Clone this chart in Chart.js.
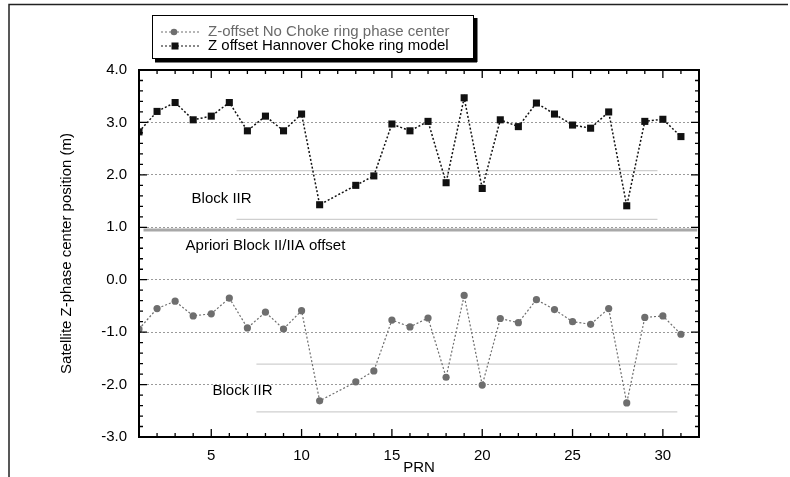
<!DOCTYPE html>
<html>
<head>
<meta charset="utf-8">
<script src="https://cdn.jsdelivr.net/npm/chart.js@4.4.0/dist/chart.umd.min.js"></script>
<style>
  html, body { margin: 0; padding: 0; background: #fff; }
</style>
</head>
<body>
<canvas id="chart" width="790" height="477"></canvas>
<script>
// PRN numbers (no PRN 12 in the data)
const prn = [1, 2, 3, 4, 5, 6, 7, 8, 9, 10, 11, 13, 14, 15, 16, 17, 18, 19, 20, 21, 22, 23, 24, 25, 26, 27, 28, 29, 30, 31];
const noChoke = [-0.94, -0.55, -0.41, -0.69, -0.65, -0.35, -0.92, -0.62, -0.94, -0.59, -2.31,
  -1.95, -1.74, -0.77, -0.90, -0.73, -1.86, -0.30, -2.01, -0.74, -0.82, -0.38, -0.57, -0.80, -0.85, -0.55, -2.35, -0.72, -0.69, -1.04];
const hannover = [2.82, 3.21, 3.38, 3.05, 3.12, 3.38, 2.84, 3.12, 2.84, 3.16, 1.43,
  1.80, 1.98, 2.97, 2.84, 3.02, 1.85, 3.47, 1.74, 3.05, 2.92, 3.37, 3.16, 2.95, 2.89, 3.20, 1.41, 3.02, 3.06, 2.73];

// Block IIR band limits and the a-priori offset line
const upperBand = [2.08, 1.15];
const upperBandX = [6.4, 29.7];
const lowerBand = [-1.61, -2.52];
const lowerBandX = [7.5, 30.8];
const aprioriOffset = 0.95;
const aprioriX = [1.25, 31.9];

const xTicks = [5, 10, 15, 20, 25, 30];
const yTicks = [-3, -2, -1, 0, 1, 2, 3, 4];

const FONT = '"Liberation Sans", Arial, sans-serif';

const toXY = (xs, ys) => xs.map((x, i) => ({ x: x, y: ys[i] }));
const hline = (xs, y) => xs.map((x) => ({ x: x, y: y }));

const refLine = (pts, color, width) => ({
  data: pts,
  borderColor: color,
  borderWidth: width,
  pointRadius: 0,
  fill: false
});

const frame = {
  id: 'frame',
  afterDraw(chart) {
    const ctx = chart.ctx;
    const { left, right, top, bottom } = chart.chartArea;
    const xs = chart.scales.x, ys = chart.scales.y;
    ctx.save();

    // outer figure frame
    ctx.strokeStyle = '#222';
    ctx.lineWidth = 1.5;
    ctx.beginPath();
    ctx.moveTo(9, 477);
    ctx.lineTo(9, 4.5);
    ctx.lineTo(788, 4.5);
    ctx.stroke();

    // inward ticks
    ctx.strokeStyle = '#000';
    ctx.lineWidth = 1.3;
    ctx.beginPath();
    for (let v = 1; v <= 32; v++) {
      const px = xs.getPixelForValue(v);
      const len = v % 5 === 0 ? 8 : 4;
      ctx.moveTo(px, bottom); ctx.lineTo(px, bottom - len);
      ctx.moveTo(px, top); ctx.lineTo(px, top + len);
    }
    for (let k = -15; k <= 20; k++) {
      const py = ys.getPixelForValue(k * 0.2);
      const len = k % 5 === 0 ? 8 : 4;
      ctx.moveTo(left, py); ctx.lineTo(left + len, py);
      ctx.moveTo(right, py); ctx.lineTo(right - len, py);
    }
    ctx.stroke();

    // plot box
    ctx.lineWidth = 2;
    ctx.strokeRect(left, top, right - left, bottom - top);

    // annotations
    ctx.fillStyle = '#000';
    ctx.font = '15px ' + FONT;
    ctx.textAlign = 'center';
    ctx.textBaseline = 'middle';
    ctx.fillText('Block IIR', xs.getPixelForValue(5.57), ys.getPixelForValue(1.55));
    ctx.fillText('Apriori Block II/IIA offset', xs.getPixelForValue(8.0), ys.getPixelForValue(0.65));
    ctx.fillText('Block IIR', xs.getPixelForValue(6.73), ys.getPixelForValue(-2.12));

    // legend box with shadow
    const bx = 152, by = 15, bw = 321, bh = 43;
    ctx.fillStyle = '#000';
    ctx.fillRect(bx + 3, by + bh, bw + 1, 4.5);
    ctx.fillRect(bx + bw, by + 3, 4.5, bh + 1);
    ctx.fillStyle = '#fff';
    ctx.fillRect(bx, by, bw, bh);
    ctx.strokeStyle = '#000';
    ctx.lineWidth = 1;
    ctx.strokeRect(bx + 0.5, by + 0.5, bw, bh);

    const rows = [chart.data.datasets[0], chart.data.datasets[1]];
    rows.forEach((ds, i) => {
      const y = 32 + i * 14;
      ctx.strokeStyle = ds.borderColor;
      ctx.lineWidth = 1.2;
      ctx.setLineDash([2, 2]);
      ctx.beginPath();
      ctx.moveTo(161, y); ctx.lineTo(201, y);
      ctx.stroke();
      ctx.setLineDash([]);
      ctx.fillStyle = ds.pointBackgroundColor;
      if (ds.pointStyle === 'rect') {
        ctx.fillRect(171.5, y - 3.5, 7, 7);
      } else {
        ctx.beginPath(); ctx.arc(174, y, 3.3, 0, Math.PI * 2); ctx.fill();
      }
      ctx.fillStyle = ds.legendColor;
      ctx.font = '15px ' + FONT;
      ctx.textAlign = 'left';
      ctx.textBaseline = 'middle';
      ctx.fillText(ds.label, 208, y);
    });
    ctx.restore();
  }
};

const config = {
  type: 'line',
  data: {
    datasets: [{
        label: 'Z-offset No Choke ring phase center',
        data: toXY(prn, noChoke),
        borderColor: '#6e6e6e',
        borderWidth: 1.2,
        borderDash: [2, 2],
        pointStyle: 'circle',
        pointRadius: 3.6,
        pointBackgroundColor: '#6e6e6e',
        pointBorderWidth: 0,
        legendColor: '#6a6a6a',
        spanGaps: true,
        tension: 0
      },
      {
        label: 'Z offset Hannover Choke ring model',
        data: toXY(prn, hannover),
        borderColor: '#111',
        borderWidth: 1.5,
        borderDash: [2, 2],
        pointStyle: 'rect',
        pointRadius: 5,
        pointBackgroundColor: '#111',
        pointBorderWidth: 0,
        legendColor: '#000',
        spanGaps: true,
        tension: 0
      },
      refLine(hline(upperBandX, upperBand[0]), '#cfcfcf', 1.2),
      refLine(hline(upperBandX, upperBand[1]), '#cfcfcf', 1.2),
      refLine(hline(lowerBandX, lowerBand[0]), '#cfcfcf', 1.2),
      refLine(hline(lowerBandX, lowerBand[1]), '#cfcfcf', 1.2),
      refLine(hline(aprioriX, aprioriOffset), '#a8a8a8', 3)
    ]
  },
  options: {
    responsive: false,
    animation: false,
    devicePixelRatio: 1,
    layout: { padding: { left: 0, top: 70, right: 91, bottom: 0 } },
    plugins: { legend: { display: false }, tooltip: { enabled: false } },
    scales: {
      x: {
        type: 'linear',
        min: 1,
        max: 32,
        afterBuildTicks: (s) => { s.ticks = xTicks.map((v) => ({ value: v })); },
        afterFit: (s) => { s.height = 40; },
        ticks: { padding: 10, color: '#000', font: { family: FONT, size: 15 }, maxRotation: 0, autoSkip: false },
        grid: { display: false, drawTicks: false },
        border: { display: false },
        title: { display: true, text: 'PRN', color: '#000', font: { family: FONT, size: 15 }, padding: { top: 0, bottom: 0 } }
      },
      y: {
        min: -3,
        max: 4,
        afterBuildTicks: (s) => { s.ticks = yTicks.map((v) => ({ value: v })); },
        afterFit: (s) => { s.width = 139; },
        ticks: { padding: 12, color: '#000', font: { family: FONT, size: 15 }, callback: (v) => v.toFixed(1) },
        grid: {
          drawTicks: false,
          lineWidth: 1,
          color: (c) => (c.tick && c.tick.value > -3 && c.tick.value < 4) ? '#9a9a9a' : 'rgba(0,0,0,0)'
        },
        border: { display: false, dash: [2, 2] },
        title: { display: true, text: 'Satellite Z-phase center position (m)', color: '#000', font: { family: FONT, size: 15 }, padding: { top: 58, bottom: 0 } }
      }
    }
  },
  plugins: [frame]
};

const myChart = new Chart(document.getElementById('chart'), config);
</script>
</body>
</html>
